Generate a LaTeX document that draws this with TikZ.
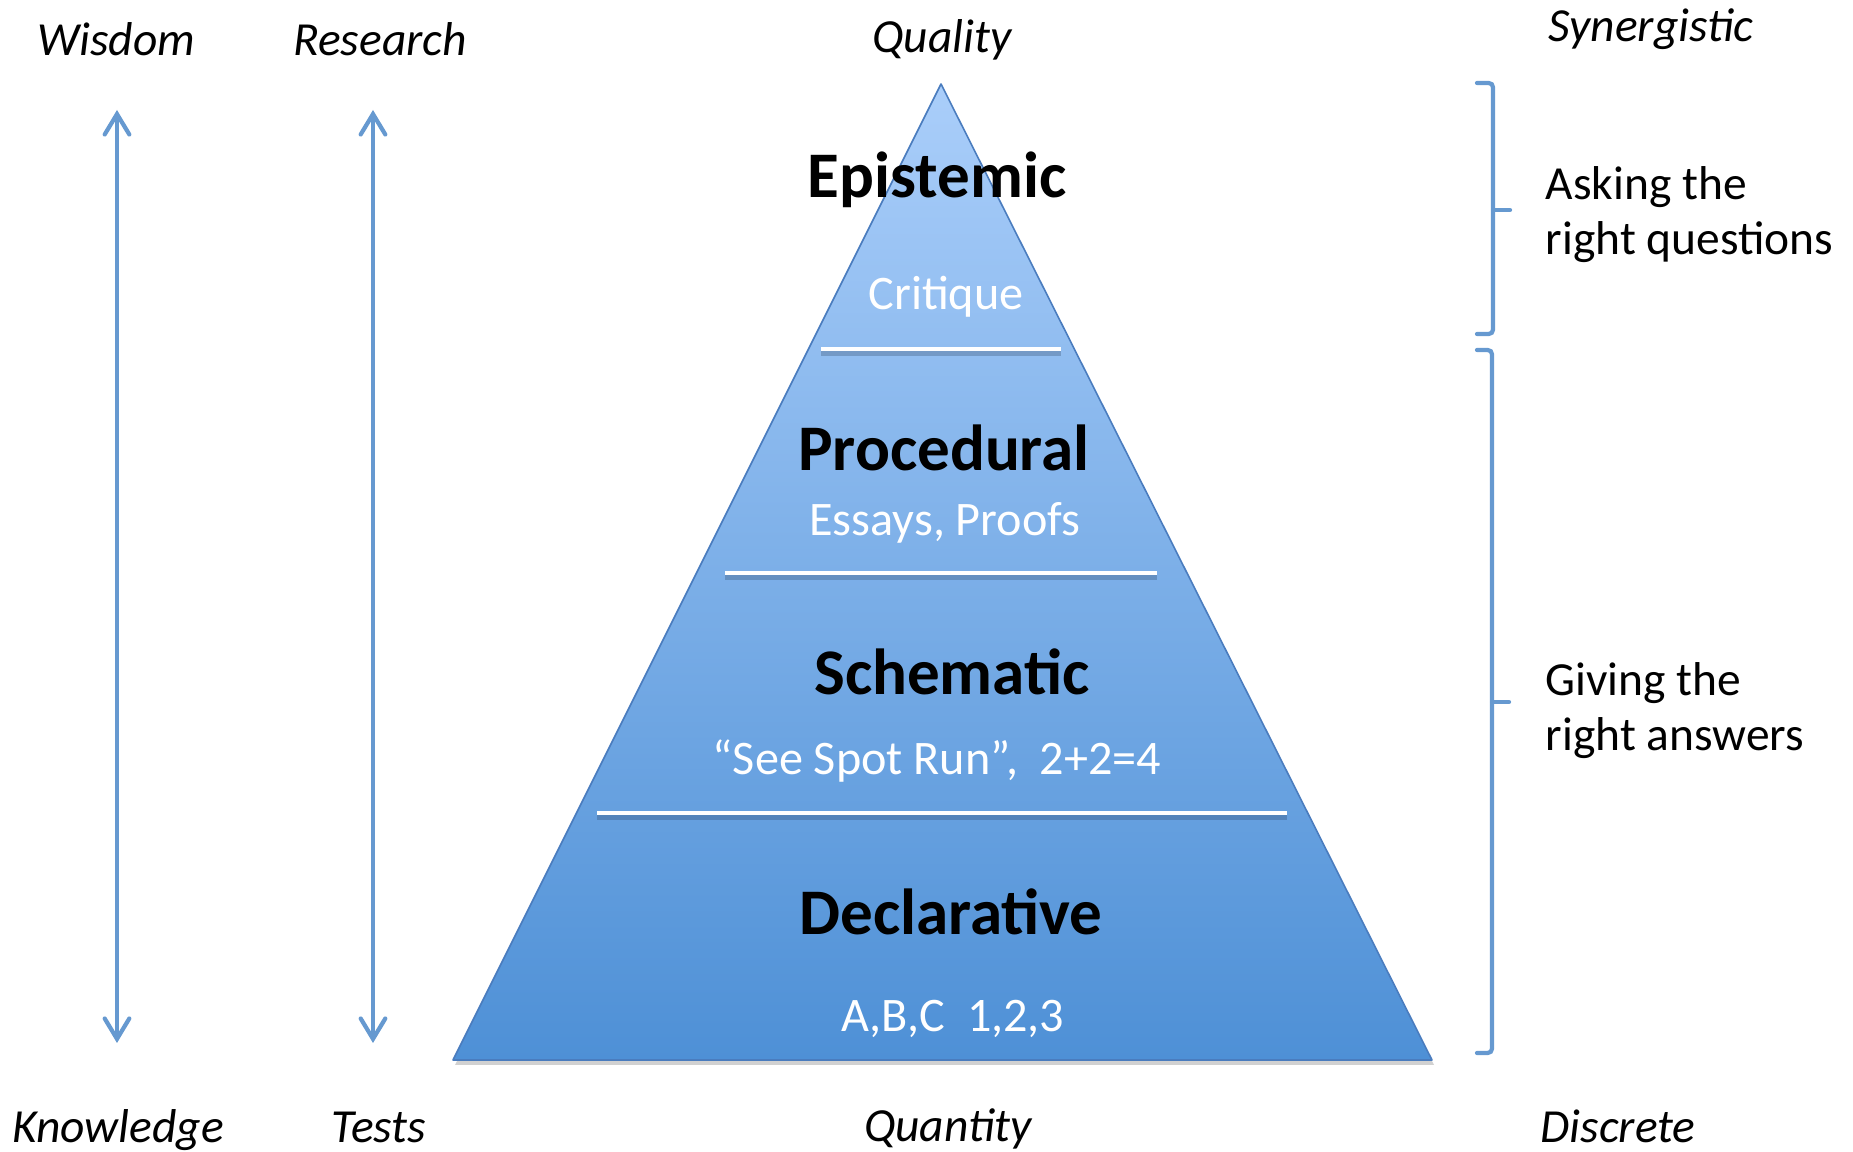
\documentclass[tikz,border=0pt]{standalone}
\usepackage{fontspec}
\setmainfont{Carlito}
\usetikzlibrary{arrows.meta}
\definecolor{pyrTop}{RGB}{170,206,250}
\definecolor{pyrBot}{RGB}{78,144,214}
\definecolor{pyrEdge}{RGB}{74,124,190}
\definecolor{accent}{RGB}{102,153,208}
\begin{document}
\begin{tikzpicture}[x=0.01cm,y=-0.01cm,
  corner/.style={font=\fontsize{13.5}{16}\selectfont\itshape, anchor=base, inner sep=0pt},
  title/.style={font=\fontsize{18.5}{22}\selectfont\bfseries, anchor=base, inner sep=0pt},
  sub/.style={font=\fontsize{13.7}{16}\selectfont, text=white, anchor=base, inner sep=0pt},
  side/.style={font=\fontsize{13.5}{15.65}\selectfont, align=left, anchor=base west, inner sep=0pt},
  dblarrow/.style={draw=accent, line width=1.2pt, line cap=round,
     {Straight Barb[length=5.8pt,width=7pt,line cap=round]}-{Straight Barb[length=5.8pt,width=7pt,line cap=round]}},
  bracket/.style={draw=accent, line width=1.2pt, line cap=round, rounded corners=1.2pt},
  divider/.style={draw=white, line width=1.35pt},
  dividershadow/.style={draw=black!60!pyrEdge, line width=1.6pt, opacity=0.25}
]
\useasboundingbox (0,0) rectangle (1853,1152);

% pyramid
\coordinate (apex) at (941,84);
\coordinate (bl) at (453,1060);
\coordinate (br) at (1432,1060);
\fill[black, opacity=0.18] ([shift={(2,5)}]apex) -- ([shift={(2,5)}]bl) -- ([shift={(2,5)}]br) -- cycle;
\shade[top color=pyrTop, bottom color=pyrBot] (apex) -- (bl) -- (br) -- cycle;
\draw[pyrEdge, line width=0.45pt, line join=round] (apex) -- (bl) -- (br) -- cycle;

% dividers
\coordinate (d1a) at (821,349);  \coordinate (d1b) at (1061,349);
\coordinate (d2a) at (725,573);  \coordinate (d2b) at (1157,573);
\coordinate (d3a) at (597,813);  \coordinate (d3b) at (1287,813);
\foreach \a/\b in {d1a/d1b, d2a/d2b, d3a/d3b}{
  \draw[dividershadow] ([yshift=-1.1pt]\a) -- ([yshift=-1.1pt]\b);
}
\draw[divider] (d1a) -- (d1b);
\draw[divider] (d2a) -- (d2b);
\draw[divider] (d3a) -- (d3b);

% pyramid texts
\node[title] (epi) at (937,198) {Epistemic};
\node[sub] (cri) at (946,310) {Critique};
\node[title] (pro) at (944,471) {Procedural};
\node[sub] (ess) at (945,536) {Essays, Proofs};
\node[title] (sch) at (952,695) {Schematic};
\node[sub] (see) at (937,775) {“See Spot Run”,\ \ 2+2=4};
\node[title] (dec) at (951,935) {Declarative};
\node[sub] (abc) at (953,1032) {A,B,C\ \ 1,2,3};

% corner labels
\node[corner] (wis) at (116,56) {Wisdom};
\node[corner] (res) at (380,56) {Research};
\node[corner] (qual) at (942,53) {Quality};
\node[corner] (syn) at (1651,42) {Synergistic};
\node[corner] (kno) at (118,1143) {Knowledge};
\node[corner] (tes) at (379,1143) {Tests};
\node[corner] (quan) at (948,1142) {Quantity};
\node[corner] (dis) at (1618,1143) {Discrete};

% vertical double arrows
\coordinate (w1) at (117,110); \coordinate (w2) at (117,1043);
\coordinate (r1) at (373,110); \coordinate (r2) at (373,1043);
\draw[dblarrow] (w1) -- (w2);
\draw[dblarrow] (r1) -- (r2);

% brackets
\coordinate (b1t) at (1477,83);  \coordinate (b1b) at (1477,334);
\coordinate (b1m) at (1493,210); \coordinate (b1tip) at (1510,210);
\draw[bracket] (b1t) -- (1493,83) -- (1493,334) -- (b1b);
\draw[bracket] (b1m) -- (b1tip);
\coordinate (b2t) at (1477,350);  \coordinate (b2b) at (1477,1053);
\coordinate (b2m) at (1492,702);  \coordinate (b2tip) at (1509,702);
\draw[bracket] (b2t) -- (1492,350) -- (1492,1053) -- (b2b);
\draw[bracket] (b2m) -- (b2tip);

% side labels (base anchor = last line's baseline)
\node[side] (ask) at (1545,255) {Asking the\\right questions};
\node[side] (giv) at (1545,751) {Giving the\\right answers};
\end{tikzpicture}
\end{document}
